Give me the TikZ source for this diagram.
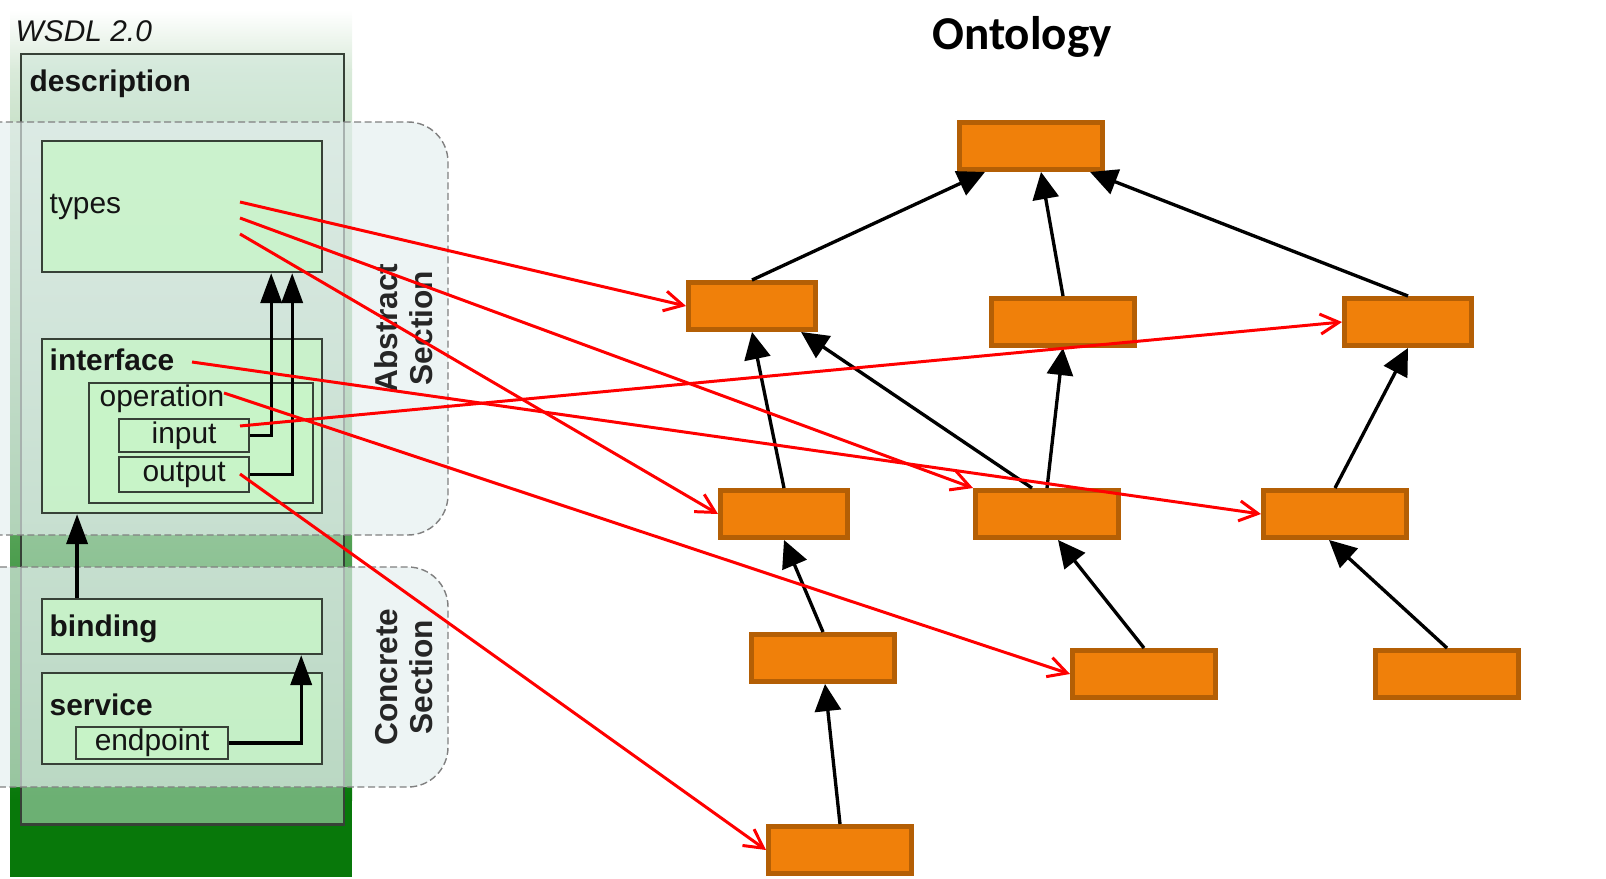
\documentclass[tikz,border=0pt]{standalone}
\usepackage{fontspec}
\setmainfont{Liberation Sans}
\newfontfamily\calfont{Carlito}
\usepackage{tikz}
\usetikzlibrary{arrows.meta}
\usetikzlibrary{positioning}

\definecolor{ontofill}{RGB}{240,128,10}
\definecolor{ontoedge}{RGB}{180,95,5}
\definecolor{wsdlgreen}{RGB}{8,120,10}
\definecolor{boxgreen}{RGB}{200,245,200}
\definecolor{descfill}{RGB}{208,232,220}
\definecolor{sectfill}{RGB}{228,238,238}
\definecolor{wline}{RGB}{55,65,55}
\definecolor{wtext}{RGB}{20,20,20}
\definecolor{maplink}{RGB}{255,0,0}

\tikzset{
% standard arrow tip
>={Triangle[length=8.5pt,width=6pt]},
wbox/.style={draw=wline, line width=0.6pt, fill=boxgreen, fill opacity=0.8,
  text opacity=1, anchor=north west, inner sep=0, text=wtext,
  font=\fontsize{8.5}{10}\selectfont},
lbl/.style={inner sep=0, anchor=base west, text=wtext, font=\fontsize{8.5}{10}\selectfont},
blbl/.style={lbl, font=\fontsize{8.5}{10}\selectfont\bfseries},
sect/.style={draw=gray, line width=0.4pt, dash pattern=on 2pt off 1pt,
  fill=sectfill, fill opacity=0.65, rounded corners=0.4cm},
secttxt/.style={inner sep=0, rotate=90, align=center, text=black!85,
  font=\fontsize{9}{10}\selectfont\bfseries},
concept/.style={draw=ontoedge, fill=ontofill, line width=1.4pt,
  minimum height=0.47cm, inner sep=0},
small/.style={concept, minimum width=1.27cm},
large/.style={concept, minimum width=1.43cm},
isa/.style={-{Triangle[length=7.7pt,width=7.4pt]}, line width=0.95pt},
maps/.style={draw=maplink, line width=0.85pt, -{Straight Barb[length=5.3pt,width=5.7pt]}}
}

\begin{document}
\begin{tikzpicture}[x=0.01cm, y=-0.01cm]
  \useasboundingbox (0,0) rectangle (1606,879);
  \clip (0,0) rectangle (1606,879);

  % WSDL background
  \shade[top color=white, bottom color=wsdlgreen!15] (10,10) rectangle (352,70);
  \shade[top color=wsdlgreen!15, bottom color=wsdlgreen] (10,70) rectangle (352,800);
  \fill[wsdlgreen] (10,800) rectangle (352,877);
  \node[lbl, font=\fontsize{8.5}{10}\selectfont\itshape] (wsdl) at (15,42) {WSDL 2.0};

  \node[draw=wline, line width=0.6pt, fill=descfill, fill opacity=0.5, anchor=north west,
    minimum width=3.23cm, minimum height=7.70cm, inner sep=0] (desc) at (20,53) {};
  \node[blbl] (desclbl) at (29,92) {description};

  % sections
  \draw[sect] (-60,122) rectangle (448,535);
  \draw[sect] (-60,567) rectangle (448,787);
  \node[secttxt] (abstract) at (404,328) {Abstract\\Section};
  \node[secttxt] (concrete) at (404,677) {Concrete\\Section};

  % WSDL components
  \node[wbox, minimum width=2.80cm, minimum height=1.31cm] (types) at (41,140) {};
  \node[wbox, minimum width=2.80cm, minimum height=1.74cm] (interface) at (41,338) {};
  \node[wbox, minimum width=2.24cm, minimum height=1.20cm] (operation) at (88,382) {};
  \node[wbox, minimum width=1.30cm, minimum height=0.33cm] (input) at (118,418) {input};
  \node[wbox, minimum width=1.30cm, minimum height=0.35cm] (output) at (118,456) {output};
  \node[wbox, minimum width=2.80cm, minimum height=0.55cm] (binding) at (41,598) {};
  \node[wbox, minimum width=2.80cm, minimum height=0.91cm] (service) at (41,672) {};
  \node[wbox, minimum width=1.52cm, minimum height=0.32cm] (endpoint) at (75,726) {endpoint};

  \node[lbl] (typeslbl) at (49,213) {types};
  \node[blbl] (interfacelbl) at (49,370) {interface};
  \node[lbl] (operationlbl) at (99,406) {operation};
  \node[blbl] (bindinglbl) at (49,636) {binding};
  \node[blbl] (servicelbl) at (49,715) {service};

  \draw[->, line width=0.95pt] (input.east) -| ([xshift=0.89cm]types.south);
  \draw[->, line width=0.95pt] (output.east) -| ([xshift=1.10cm]types.south);
  \draw[->, line width=0.95pt] ([xshift=-1.05cm]binding.north) -- ([xshift=-1.05cm]interface.south);
  \draw[->, line width=0.95pt] (endpoint.east) -| ([xshift=1.19cm]binding.south);

  % ontology
  \node[font=\calfont\bfseries\fontsize{13.4}{15}\selectfont, anchor=base, inner sep=0] (title) at (1022,50) {Ontology};

  \node[large] (root) at (1031,146) {};
  \node[small] (a1) at (752,306) {};
  \node[large] (a2) at (1063,322) {};
  \node[small] (a3) at (1408,322) {};
  \node[small] (b1) at (784,514) {};
  \node[large] (b2) at (1047,514) {};
  \node[large] (b3) at (1335,514) {};
  \node[large] (c1) at (823,658) {};
  \node[large] (c2) at (1144,674) {};
  \node[large] (c3) at (1447,674) {};
  \node[large] (d1) at (840,850) {};

  \draw[isa] (a1.north) -- ([xshift=-0.46cm]root.south);
  \draw[isa] (a2.north) -- ([xshift=0.10cm]root.south);
  \draw[isa] (a3.north) -- ([xshift=0.59cm]root.south);
  \draw[isa] (b1.north) -- (a1.south);
  \draw[isa] ([xshift=-0.15cm]b2.north) -- ([xshift=0.49cm]a1.south);
  \draw[isa] (b2.north) -- (a2.south);
  \draw[isa] (b3.north) -- (a3.south);
  \draw[isa] (c1.north) -- (b1.south);
  \draw[isa] (c2.north) -- ([xshift=0.11cm]b2.south);
  \draw[isa] (c3.north) -- ([xshift=-0.06cm]b3.south);
  \draw[isa] (d1.north) -- ([xshift=0.02cm]c1.south);

  % mappings
  \coordinate (ty1) at (240,202);
  \coordinate (ty2) at (240,218);
  \coordinate (ty3) at (240,234);
  \coordinate (ifc) at (192,362);
  \coordinate (opr) at (224,393);
  \coordinate (inp) at (240,426);
  \coordinate (outp) at (240,474);

  \draw[maps] (ty1) -- (a1.west);
  \draw[maps] (ty2) -- (b2.north west);
  \draw[maps] (ty3) -- (b1.west);
  \draw[maps] (ifc) -- (b3.west);
  \draw[maps] (opr) -- (c2.west);
  \draw[maps] (inp) -- (a3.west);
  \draw[maps] (outp) -- (d1.west);
\end{tikzpicture}
\end{document}
